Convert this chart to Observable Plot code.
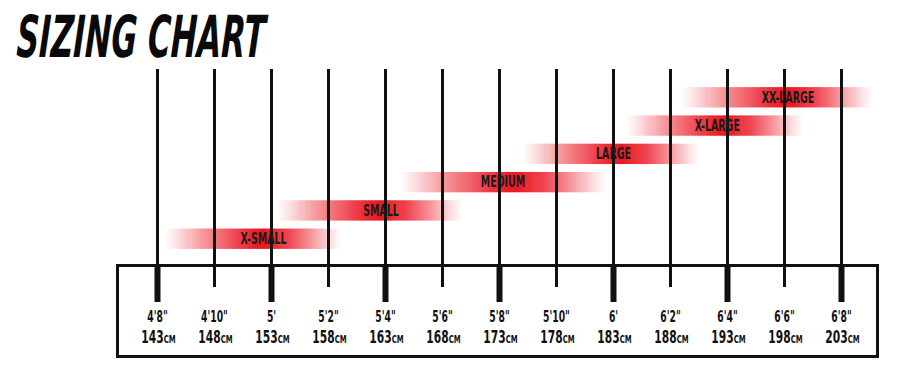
<!DOCTYPE html>
<html>
<head>
<meta charset="utf-8">
<script src="https://cdn.jsdelivr.net/npm/d3@7"></script>
<script src="https://cdn.jsdelivr.net/npm/@observablehq/plot@0.6"></script>
<style>
  html, body { margin: 0; padding: 0; background: #fff; }
  #wrap { position: relative; width: 920px; height: 381px; overflow: hidden; }
  #title {
    position: absolute; left: 18px; top: 8px; margin: 0;
    font-family: "DejaVu Sans Condensed", "DejaVu Sans", sans-serif;
    font-weight: 700; font-style: italic; font-size: 58px; line-height: 1;
    color: #0a0a0a; transform-origin: left top; transform: scaleX(0.6) skewX(-4deg); white-space: nowrap;
  }
  #chart { position: absolute; left: 0; top: 0; }
</style>
</head>
<body>
<div id="wrap">
  <div id="chart"></div>
  <div id="title">SIZING CHART</div>
</div>
<script>
// Height ticks (cm) and their imperial labels
const tickCm = [143, 148, 153, 158, 163, 168, 173, 178, 183, 188, 193, 198, 203];
const tickImperial = ["4'8\"", "4'10\"", "5'", "5'2\"", "5'4\"", "5'6\"", "5'8\"", "5'10\"", "6'", "6'2\"", "6'4\"", "6'6\"", "6'8\""];
const tickMajor = [true, false, true, false, true, false, true, false, true, false, true, false, true];
const cmUnit = "CM";

// Frame sizes and the height ranges they cover (cm)
const sizeNames = ["X-SMALL", "SMALL", "MEDIUM", "LARGE", "X-LARGE", "XX-LARGE"];
const sizeFrom  = [143.7, 153.5, 164.3, 175.1, 184.2, 189.0];
const sizeTo    = [159.2, 169.8, 182.4, 190.6, 199.7, 205.8];
const sizeLabelAt = [152.3, 162.6, 173.3, 183.0, 192.1, 198.3];
const sizeLevel = [1, 2, 3, 4, 5, 6];

const ticks = tickCm.map((cm, i) => ({cm, imperial: tickImperial[i], major: tickMajor[i], num: String(cm)}));
const sizes = sizeNames.map((name, i) => ({name, from: sizeFrom[i], to: sizeTo[i], at: sizeLabelAt[i], level: sizeLevel[i]}));

const font = "'DejaVu Sans Condensed', 'DejaVu Sans', sans-serif";

const chart = Plot.plot({
  width: 920,
  height: 381,
  marginLeft: 117,
  marginRight: 43,
  marginTop: 265,
  marginBottom: 25,
  x: {type: "linear", domain: [143, 203], range: [157, 841], axis: null},
  y: {type: "linear", domain: [0, 7], range: [267, 69], axis: null},
  style: {fontFamily: font, background: "transparent", overflow: "visible"},
  marks: [
    Plot.rect(sizes, {x1: "from", x2: "to", y1: d => d.level - 0.36, y2: d => d.level + 0.36, fill: "#e8141f", className: "sizebar"}),
    Plot.ruleX(ticks, {x: "cm", y1: 0, y2: 7, stroke: "#111", strokeWidth: 3}),
    Plot.ruleX(ticks.filter(d => d.major), {x: "cm", stroke: "#111", strokeWidth: 6, insetBottom: 54}),
    Plot.ruleX(ticks.filter(d => !d.major), {x: "cm", stroke: "#111", strokeWidth: 3, insetBottom: 69}),
    Plot.frame({stroke: "#111", strokeWidth: 3}),
    Plot.text(sizes, {x: "at", y: "level", text: "name", fontSize: 15, fontWeight: 700, fill: "#1a1a1a", className: "squeeze-70"}),
    Plot.text(ticks, {x: "cm", text: "imperial", frameAnchor: "top", lineAnchor: "bottom", dy: 56, fontSize: 15, fontWeight: 700, fill: "#111", className: "squeeze-68"}),
    Plot.text(ticks, {x: "cm", text: "num", frameAnchor: "top", lineAnchor: "bottom", dx: 1, dy: 77, fontSize: 17, fontWeight: 700, fill: "#111", className: "cmlabel"})
  ]
});
document.getElementById("chart").appendChild(chart);

const svg = d3.select(chart);

// rebuild each centimetre label as number + small "CM" unit, condensed by a horizontal scale
svg.selectAll(".cmlabel text").each(function() {
  const t = d3.select(this);
  const num = t.text();
  t.text(null);
  t.append("tspan").text(num + "");
  t.append("tspan").attr("font-size", 11).text(cmUnit);
  const x = this.getAttribute("x"), y = this.getAttribute("y");
  let tr = this.getAttribute("transform") || "";
  if (x !== null || y !== null) {
    tr = `translate(${+x || 0},${+y || 0}) ` + tr;
    this.removeAttribute("x");
    this.removeAttribute("y");
  }
  this.setAttribute("transform", (tr + " scale(0.7,1)").trim());
});

// gradient + soft edge for the size bars
const defs = svg.insert("defs", ":first-child");
const g = defs.append("linearGradient").attr("id", "barGrad").attr("x1", "0").attr("x2", "1").attr("y1", "0").attr("y2", "0");
[[0, 0], [0.07, 0.12], [0.2, 0.42], [0.35, 0.68], [0.48, 0.92], [0.56, 1], [0.7, 0.78], [0.84, 0.42], [0.94, 0.12], [1, 0]]
  .forEach(([o, a]) => g.append("stop").attr("offset", o).attr("stop-color", "#ea1420").attr("stop-opacity", a));
const f = defs.append("filter").attr("id", "soft").attr("x", "-5%").attr("y", "-40%").attr("width", "110%").attr("height", "180%");
f.append("feGaussianBlur").attr("stdDeviation", "0.5");
svg.selectAll(".sizebar rect").attr("fill", "url(#barGrad)").attr("filter", "url(#soft)");

// condense text to imitate the narrow display face
[["squeeze-70", 0.70], ["squeeze-68", 0.68]].forEach(([cls, k]) => {
  svg.selectAll(`.${cls} text`).each(function() {
    const len = this.getComputedTextLength();
    this.setAttribute("textLength", (len * k).toFixed(1));
    this.setAttribute("lengthAdjust", "spacingAndGlyphs");
  });
});
</script>
</body>
</html>
